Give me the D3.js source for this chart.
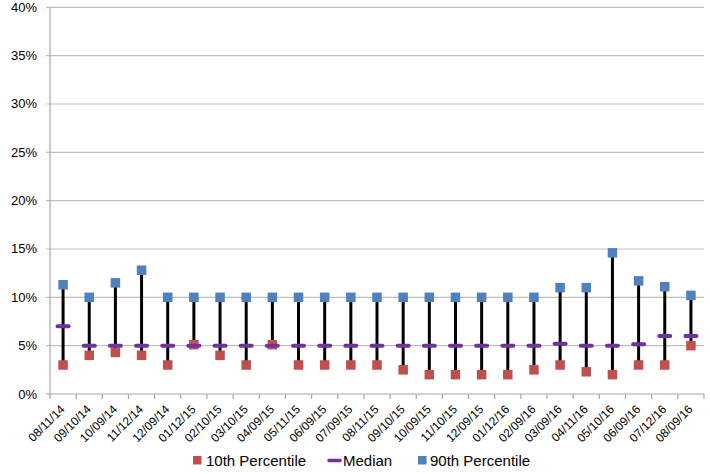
<!DOCTYPE html>
<html><head><meta charset="utf-8">
<script src="https://cdn.jsdelivr.net/npm/d3@7/dist/d3.min.js"></script>
<style>body{margin:0;background:#fff}svg{display:block}text{font-family:"Liberation Sans",Arial,sans-serif;fill:#000}</style>
</head><body><svg id="c" width="710" height="474"></svg>
<script>
const categories = ["08/11/14","09/10/14","10/09/14","11/12/14","12/09/14","01/12/15","02/10/15","03/10/15","04/09/15","05/11/15","06/09/15","07/09/15","08/11/15","09/10/15","10/09/15","11/10/15","12/09/15","01/12/16","02/09/16","03/09/16","04/11/16","05/10/16","06/09/16","07/12/16","08/09/16"];
const p10 = [3,4,4.3,4,3,5.1,4,3,5.1,3,3,3,3,2.5,2,2,2,2,2.5,3,2.3,2,3,3,5];
const median = [7,5,5,5,5,5,5,5,5,5,5,5,5,5,5,5,5,5,5,5.2,5,5,5.15,6,6];
const p90 = [11.3,10,11.5,12.8,10,10,10,10,10,10,10,10,10,10,10,10,10,10,10,11,11,14.6,11.7,11.1,10.2];
const yTicks = [0,5,10,15,20,25,30,35,40];
const seriesNames = ["10th Percentile","Median","90th Percentile"];
const colors = {p10:"#C0504D", med:"#7030A0", p90:"#4F81BD"};

const svg = d3.select("#c");
const L=50, R=704, T=7.3, B=394;
const x = d3.scaleBand().domain(categories).range([L,R]);
const y = d3.scaleLinear().domain([0,40]).range([B,T]);
const cx = c => x(c)+x.bandwidth()/2;

// gridlines
svg.append("g").selectAll("line").data(yTicks).join("line")
  .attr("x1",L-4).attr("x2",R).attr("y1",d=>y(d)).attr("y2",d=>y(d))
  .attr("stroke",d=>d===0?"#A6A6A6":"#BFBFBF").attr("stroke-width",1.2);
// y axis
svg.append("line").attr("x1",L).attr("x2",L).attr("y1",T).attr("y2",B).attr("stroke","#A6A6A6").attr("stroke-width",1.2);
svg.append("g").selectAll("text").data(yTicks).join("text")
  .attr("x",37).attr("y",d=>y(d)+4.5).attr("text-anchor","end").style("font-size","13px").text(d=>d+"%");
// x ticks
const bounds = categories.map(c=>x(c)).concat([R]);
svg.append("g").selectAll("line").data(bounds).join("line")
  .attr("x1",d=>d).attr("x2",d=>d).attr("y1",B).attr("y2",B+5).attr("stroke","#A6A6A6").attr("stroke-width",1.2);
svg.append("g").selectAll("text").data(categories).join("text")
  .attr("transform",c=>`translate(${cx(c)+2.5},${B+16}) rotate(-45)`)
  .attr("text-anchor","end").style("font-size","12px").text(c=>c);

// hi-low lines
svg.append("g").selectAll("line").data(categories).join("line")
  .attr("x1",cx).attr("x2",cx).attr("y1",(c,i)=>y(p10[i])).attr("y2",(c,i)=>y(p90[i]))
  .attr("stroke","#000").attr("stroke-width",3);
// 10th
const s=9.5;
svg.append("g").selectAll("rect").data(categories).join("rect")
  .attr("x",c=>cx(c)-s/2).attr("y",(c,i)=>y(p10[i])-s/2).attr("width",s).attr("height",s).attr("fill",colors.p10);
// median
svg.append("g").selectAll("line").data(categories).join("line")
  .attr("x1",c=>cx(c)-5.5).attr("x2",c=>cx(c)+5.5).attr("y1",(c,i)=>y(median[i])).attr("y2",(c,i)=>y(median[i]))
  .attr("stroke",colors.med).attr("stroke-width",4).attr("stroke-linecap","round");
// 90th
svg.append("g").selectAll("rect").data(categories).join("rect")
  .attr("x",c=>cx(c)-s/2).attr("y",(c,i)=>y(p90[i])-s/2).attr("width",s).attr("height",s).attr("fill",colors.p90);

// legend
const lg = svg.append("g");
lg.append("rect").attr("x",193).attr("y",456).attr("width",8.5).attr("height",8.5).attr("fill",colors.p10);
lg.append("text").attr("x",206).attr("y",466).style("font-size","15px").text(seriesNames[0]);
lg.append("line").attr("x1",329).attr("x2",340).attr("y1",460.5).attr("y2",460.5).attr("stroke",colors.med).attr("stroke-width",3.5).attr("stroke-linecap","round");
lg.append("text").attr("x",343).attr("y",466).style("font-size","15px").text(seriesNames[1]);
lg.append("rect").attr("x",418).attr("y",456).attr("width",8.5).attr("height",8.5).attr("fill",colors.p90);
lg.append("text").attr("x",430).attr("y",466).style("font-size","15px").text(seriesNames[2]);
</script></body></html>
